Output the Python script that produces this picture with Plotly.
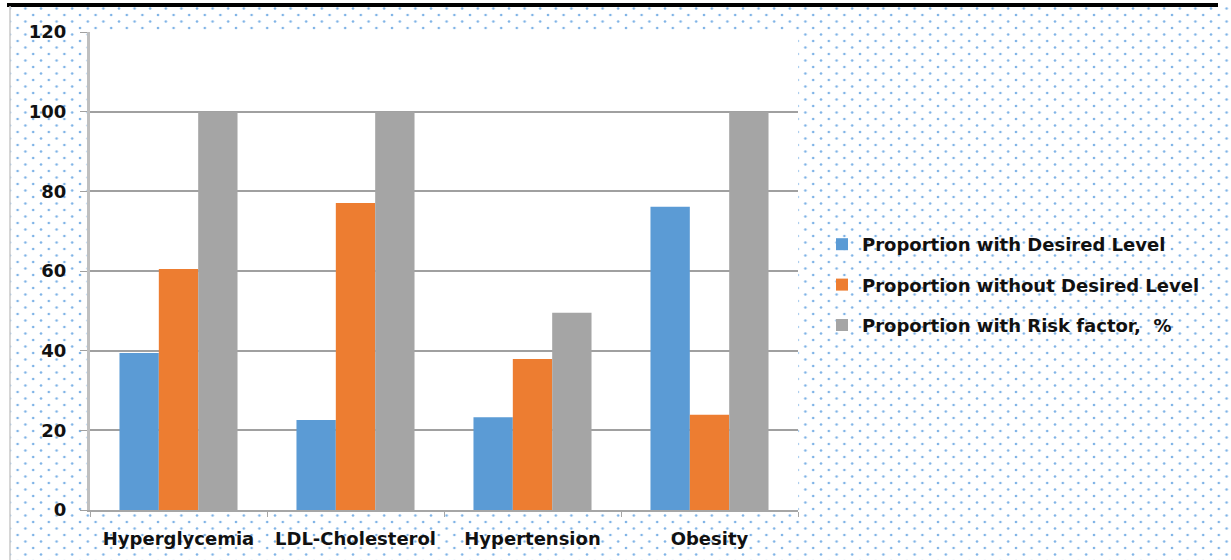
import base64
import plotly.graph_objects as go

categories = ["Hyperglycemia", "LDL-Cholesterol", "Hypertension", "Obesity"]
desired = [39.4, 22.6, 23.3, 76.1]
without_desired = [60.5, 77.1, 37.9, 23.9]
risk_factor = [100, 100, 49.5, 100]
series_names = ["Proportion with Desired Level",
                "Proportion without Desired Level",
                "Proportion with Risk factor,  %"]
y_ticks = [0, 20, 40, 60, 80, 100, 120]

W, H = 1231, 560
L, R, T, B = 90, 798, 32, 510

# dotted background
svg = f'''<svg xmlns="http://www.w3.org/2000/svg" width="{W}" height="{H}" viewBox="0 0 {W} {H}">
<defs><pattern id="p" width="15.6" height="13" patternUnits="userSpaceOnUse">
<circle cx="2" cy="2" r="1.3" fill="#7fb3e6"/><circle cx="9.8" cy="8.5" r="1.3" fill="#7fb3e6"/>
</pattern></defs>
<rect x="10" y="6" width="{W-10}" height="{H-6}" fill="url(#p)"/>
<rect x="{L}" y="{T}" width="{R-L}" height="{B-T}" fill="#ffffff"/>
</svg>'''
src = "data:image/svg+xml;base64," + base64.b64encode(svg.encode()).decode()

pw, ph = R - L, B - T
def px(x):
    return (x - L) / pw
def py(y):
    return (B - y) / ph

colors = ["#5b9bd5", "#ed7d31", "#a5a5a5"]
fig = go.Figure()
for i, (name, vals, c) in enumerate(zip(series_names, [desired, without_desired, risk_factor], colors)):
    fig.add_trace(go.Bar(x=categories, y=vals, name=name, legendgroup=f"g{i}",
                         marker=dict(color=c, line=dict(width=0))))

font_fam = "DejaVu Sans"
fig.update_layout(
    width=W, height=H,
    margin=dict(l=L, r=W - R, t=T, b=H - B),
    paper_bgcolor="white", plot_bgcolor="rgba(0,0,0,0)",
    barmode="group", bargap=0.333, bargroupgap=0,
    font=dict(family=font_fam, size=18, color="#000"),
    showlegend=True,
    legend=dict(x=px(822), y=py(285), xanchor="left", yanchor="middle",
                bgcolor="rgba(0,0,0,0)", tracegroupgap=14,
                font=dict(family=font_fam, size=18, color="#111", weight="bold"),
                itemwidth=30),
    images=[dict(source=src, xref="paper", yref="paper", x=px(0), y=py(0),
                 sizex=W / pw, sizey=H / ph, xanchor="left", yanchor="top",
                 sizing="stretch", layer="below")],
    shapes=[
        dict(type="line", xref="paper", yref="paper", x0=px(7), x1=px(1218), y0=py(5), y1=py(5),
             line=dict(color="black", width=4)),
        dict(type="line", xref="paper", yref="paper", x0=px(10), x1=px(10), y0=py(6), y1=py(560),
             line=dict(color="#c8c8c8", width=1.5)),
    ],
)
fig.update_xaxes(showgrid=False, showline=True, linecolor="#a6a6a6", linewidth=1.5,
                 ticks="outside", tickson="boundaries", ticklen=5, tickcolor="#a6a6a6",
                 ticklabelstandoff=12,
                 tickfont=dict(family=font_fam, size=18, color="#111", weight="bold"))
fig.update_yaxes(range=[0, 120], tickvals=y_ticks, showgrid=True, gridcolor="#a0a0a0", gridwidth=1.5,
                 showline=True, linecolor="#bfbfbf", linewidth=3, zeroline=False,
                 ticks="outside", ticklen=7, tickcolor="#a0a0a0", ticklabelstandoff=10,
                 tickfont=dict(family=font_fam, size=18, color="#111", weight="bold"))

fig.write_html("out.html")
